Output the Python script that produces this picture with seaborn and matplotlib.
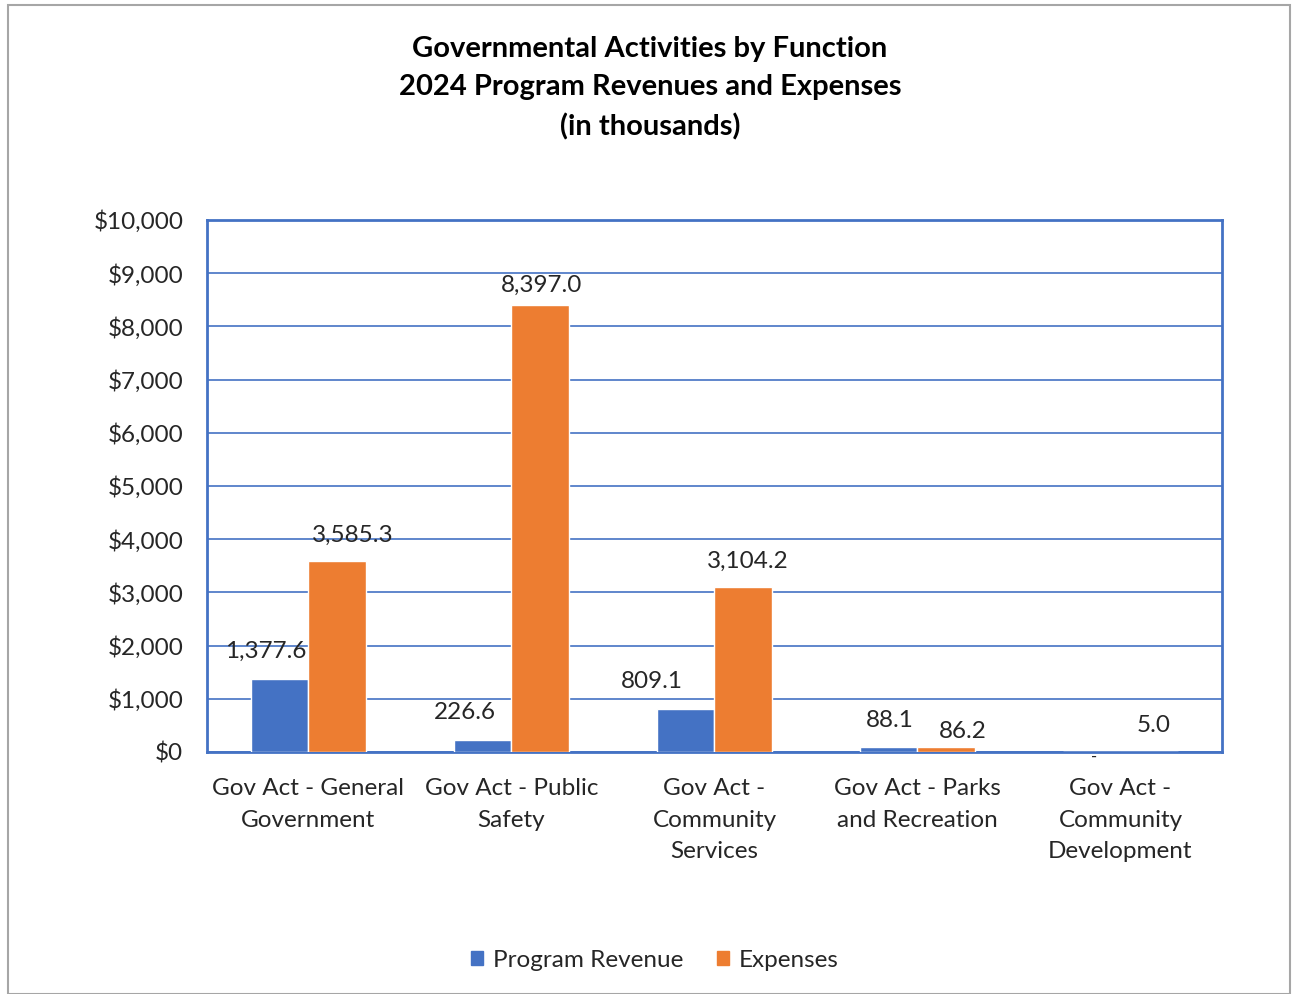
import matplotlib
matplotlib.use("Agg")
import matplotlib.pyplot as plt
import matplotlib.patches as mpatches
from matplotlib.ticker import FuncFormatter
import seaborn as sns
import pandas as pd

categories = [
    "Gov Act - General\nGovernment",
    "Gov Act - Public\nSafety",
    "Gov Act -\nCommunity\nServices",
    "Gov Act - Parks\nand Recreation",
    "Gov Act -\nCommunity\nDevelopment",
]
program_revenue = [1377.6, 226.6, 809.1, 88.1, 0.0]
expenses = [3585.3, 8397.0, 3104.2, 86.2, 5.0]
series_names = ["Program Revenue", "Expenses"]
y_ticks = list(range(0, 10001, 1000))

BLUE = "#4472C4"
ORANGE = "#ED7D31"
TEXT = "#262626"

# nudges (in points) for the value labels, per series
label_nudge = [
    [(-10, 12), (-13, 12), (-24, 12), (1, 12)],
    [(11, 11), (1, 7), (3, 11), (12, 4), (3, 11)],
]

sns.set_theme(style="white")
plt.rcParams["font.family"] = ["Lato", "DejaVu Sans"]

df = pd.DataFrame({
    "Function": categories * 2,
    "Series": [series_names[0]] * len(categories) + [series_names[1]] * len(categories),
    "Value": program_revenue + expenses,
})

fig = plt.figure(figsize=(12.92, 9.94), dpi=100)
ax = fig.add_axes([0.1602, 0.2435, 0.7856, 0.5352])

sns.barplot(
    data=df, x="Function", y="Value", hue="Series",
    order=categories, hue_order=series_names,
    palette=[BLUE, ORANGE], width=0.57, gap=0,
    saturation=1, errorbar=None, ax=ax, zorder=3,
)

ax.set_ylim(0, 10000)
ax.set_yticks(y_ticks)
ax.yaxis.set_major_formatter(FuncFormatter(lambda v, p: f"${v:,.0f}"))
ax.grid(axis="y", color=BLUE, linewidth=1.2, zorder=0)
ax.set_axisbelow(True)
ax.set_xlabel("")
ax.set_ylabel("")
ax.tick_params(axis="both", length=0, labelsize=17.5, colors=TEXT)
ax.tick_params(axis="x", pad=19)
ax.tick_params(axis="y", pad=17)
for lbl in ax.get_xticklabels():
    lbl.set_linespacing(1.6)
for s in ax.spines.values():
    s.set_color(BLUE)
    s.set_linewidth(2)

# value labels above each bar
for ci, container in enumerate(ax.containers):
    for bi, bar in enumerate(container):
        h = bar.get_height()
        x = bar.get_x() + bar.get_width() / 2
        if h == 0:
            ax.annotate("-", (x, 0), xytext=(2, 2), textcoords="offset points",
                        ha="center", va="top", fontsize=12, color=TEXT,
                        annotation_clip=False)
        else:
            dx, dy = label_nudge[ci][bi]
            ax.annotate(f"{h:,.1f}", (x, h), xytext=(dx, dy), textcoords="offset points",
                        ha="center", va="bottom", fontsize=17.5, color=TEXT)

ax.legend_.remove()
handles = [mpatches.Patch(color=BLUE, label=series_names[0]),
           mpatches.Patch(color=ORANGE, label=series_names[1])]
fig.legend(handles=handles, loc="center", bbox_to_anchor=(0.507, 0.034), ncol=2,
           frameon=False, fontsize=17.5, handlelength=0.5, handleheight=0.5,
           handletextpad=0.4, columnspacing=1.4, labelcolor=TEXT)

fig.text(0.503, 0.964, "Governmental Activities by Function\n2024 Program Revenues and Expenses\n(in thousands)",
         ha="center", va="top", fontsize=21, fontweight="bold", color="black",
         linespacing=1.6)

fig.patches.append(mpatches.Rectangle((8 / 1292, 0.0), 1282 / 1292, 1 - 5 / 994,
                                      transform=fig.transFigure, fill=False,
                                      edgecolor="#A6A6A6", linewidth=1.5))

fig.savefig("out.png", dpi=100)
